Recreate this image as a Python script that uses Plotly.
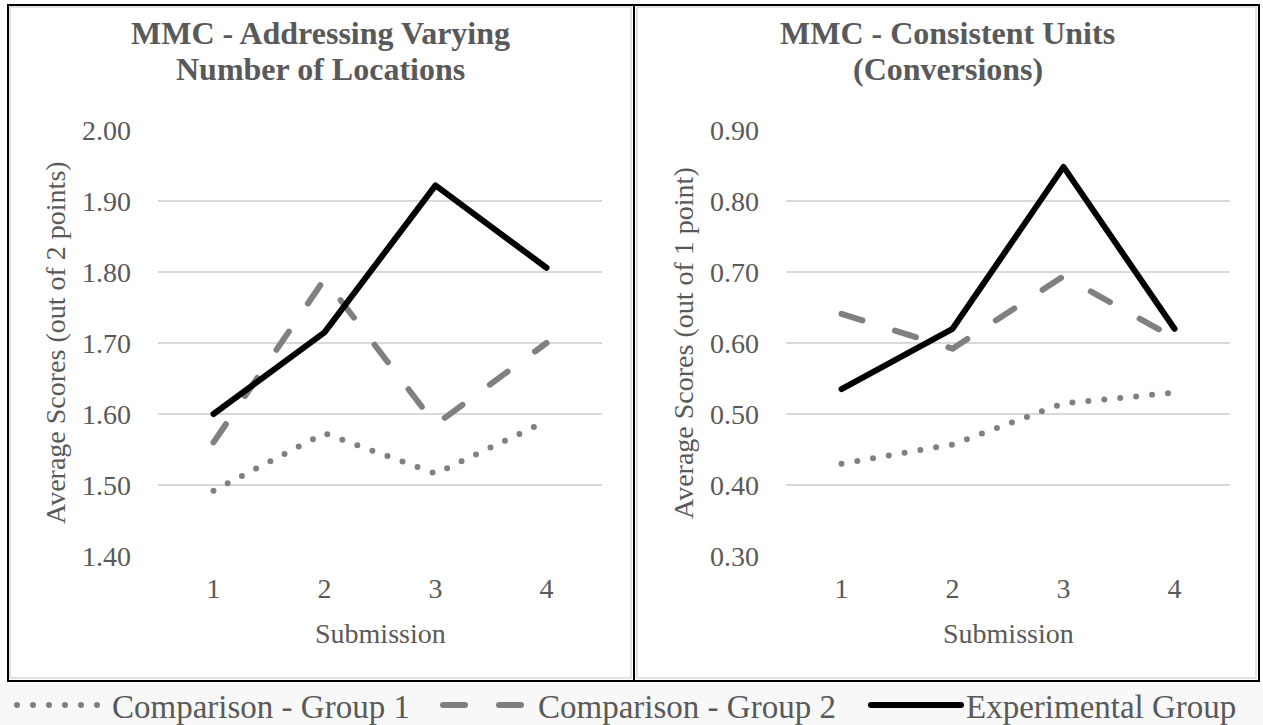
import plotly.graph_objects as go

W, H = 1263, 725

submissions = [1, 2, 3, 4]
tick_labels = ["1", "2", "3", "4"]
series_names = ["Comparison - Group 1", "Comparison - Group 2", "Experimental Group"]

left_g1 = [1.492, 1.573, 1.516, 1.590]
left_g2 = [1.560, 1.790, 1.585, 1.700]
left_exp = [1.600, 1.715, 1.922, 1.806]

right_g1 = [0.430, 0.457, 0.515, 0.530]
right_g2 = [0.641, 0.592, 0.694, 0.607]
right_exp = [0.535, 0.620, 0.848, 0.620]

left_title = ["MMC - Addressing Varying", "Number of Locations"]
right_title = ["MMC - Consistent Units", "(Conversions)"]
left_ytitle = "Average Scores (out of 2 points)"
right_ytitle = "Average Scores (out of 1 point)"
xtitle = "Submission"

FONT = "Liberation Serif, Times New Roman, serif"
TXT = "#595959"
GRAY = "#808080"
GRID = "#d9d9d9"


def px_x(p):
    return p / W


def px_y(p):
    return 1 - p / H


styles = [
    dict(color=GRAY, width=6, dash="0px,16px"),
    dict(color=GRAY, width=6, dash="22px,34px"),
    dict(color="black", width=6, dash="solid"),
]
legend_widths = [321, 323, 290]

fig = go.Figure()
for i, vals in enumerate([left_g1, left_g2, left_exp]):
    fig.add_trace(go.Scatter(x=submissions, y=vals, mode="lines", name=series_names[i],
                             line=styles[i], xaxis="x", yaxis="y", showlegend=True,
                             legendgroup=series_names[i], legendwidth=legend_widths[i]))
for i, vals in enumerate([right_g1, right_g2, right_exp]):
    fig.add_trace(go.Scatter(x=submissions, y=vals, mode="lines", name=series_names[i],
                             line=styles[i], xaxis="x2", yaxis="y2", showlegend=False,
                             legendgroup=series_names[i]))

# plot areas in pixels
L = (158, 602)
R = (786, 1230)
TOP, BOT = 130, 556

xcommon = dict(range=[0.5, 4.5], tickvals=submissions, ticktext=tick_labels, showgrid=False,
               zeroline=False, showline=False, ticks="", ticklabelstandoff=13,
               tickfont=dict(family=FONT, size=28, color=TXT), fixedrange=True)
ycommon = dict(showgrid=True, gridcolor=GRID, gridwidth=1.5, zeroline=False, showline=False,
               ticks="", ticklabelstandoff=26, tickformat=".2f",
               tickfont=dict(family=FONT, size=28, color=TXT), fixedrange=True)

fig.update_layout(
    autosize=True,
    margin=dict(l=0, r=0, t=0, b=0, autoexpand=False),
    paper_bgcolor="white", plot_bgcolor="white",
    font=dict(family=FONT, color=TXT),
    xaxis=dict(domain=[px_x(L[0]), px_x(L[1])], anchor="y", **xcommon),
    yaxis=dict(domain=[px_y(BOT), px_y(TOP)], anchor="x", range=[1.4, 2.0], dtick=0.1, **ycommon),
    xaxis2=dict(domain=[px_x(R[0]), px_x(R[1])], anchor="y2", **xcommon),
    yaxis2=dict(domain=[px_y(BOT), px_y(TOP)], anchor="x2", range=[0.3, 0.9], dtick=0.1, **ycommon),
    legend=dict(orientation="h", x=px_x(12), xanchor="left", y=px_y(705), yanchor="middle",
                font=dict(family=FONT, size=33, color=TXT), itemwidth=90,
                bgcolor="rgba(0,0,0,0)", borderwidth=0, tracegroupgap=0),
    showlegend=True,
)

ann = []
for cx, lines in [((8 + 633) / 2, left_title), ((636 + 1259) / 2, right_title)]:
    for ly, t in zip([33, 69], lines):
        ann.append(dict(text="<b>" + t + "</b>", x=px_x(cx), y=px_y(ly), xref="paper", yref="paper",
                        xanchor="center", yanchor="middle", showarrow=False,
                        font=dict(family=FONT, size=32, color=TXT)))
for x0, t in [(55, left_ytitle), (683, right_ytitle)]:
    ann.append(dict(text=t, x=px_x(x0), y=px_y((TOP + BOT) / 2), xref="paper", yref="paper",
                    xanchor="center", yanchor="middle", textangle=-90, showarrow=False,
                    font=dict(family=FONT, size=28, color=TXT)))
for (a, b) in [L, R]:
    ann.append(dict(text=xtitle, x=px_x((a + b) / 2), y=px_y(633), xref="paper", yref="paper",
                    xanchor="center", yanchor="middle", showarrow=False,
                    font=dict(family=FONT, size=28, color=TXT)))
fig.update_layout(annotations=ann)

shapes = [
    dict(type="rect", xref="paper", yref="paper", x0=0, x1=1, y0=0, y1=px_y(683),
         fillcolor="#f8f8f8", line=dict(width=0), layer="below"),
    dict(type="rect", xref="paper", yref="paper", x0=px_x(10), x1=px_x(631), y0=px_y(678), y1=px_y(7),
         line=dict(color=GRID, width=1.5), layer="below"),
    dict(type="rect", xref="paper", yref="paper", x0=px_x(637), x1=px_x(1256), y0=px_y(678), y1=px_y(7),
         line=dict(color=GRID, width=1.5), layer="below"),
    dict(type="rect", xref="paper", yref="paper", x0=px_x(8), x1=px_x(1259), y0=px_y(681), y1=px_y(5),
         line=dict(color="black", width=2)),
    dict(type="line", xref="paper", yref="paper", x0=px_x(634), x1=px_x(634), y0=px_y(681), y1=px_y(5),
         line=dict(color="black", width=2)),
]
fig.update_layout(shapes=shapes)

post = """
document.documentElement.style.margin='0';
document.documentElement.style.height='100%';
document.body.style.margin='0';
document.body.style.padding='0';
document.body.style.height='100%';
document.body.style.overflow='hidden';
var gd=document.getElementById('{plot_id}');
function rc(){gd.querySelectorAll('path.js-line').forEach(function(p){p.style.strokeLinecap='round';p.style.strokeLinejoin='round';});}
if(window.Plotly && Plotly.Plots){Plotly.Plots.resize(gd);}
rc(); if(gd.on){gd.on('plotly_afterplot', rc);}
"""

fig.write_html("out.html", post_script=post, default_width="100%", default_height="100vh",
               config={"displayModeBar": False, "responsive": True})
